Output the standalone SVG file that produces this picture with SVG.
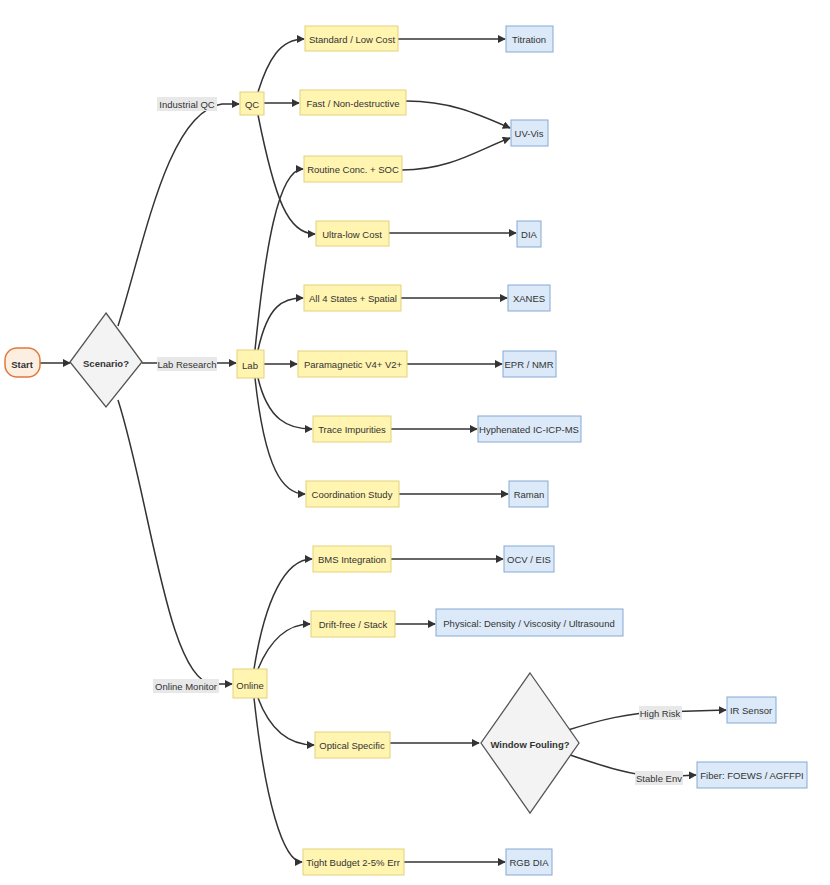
<svg xmlns="http://www.w3.org/2000/svg" width="830" height="885" viewBox="0 0 830 885">
<defs>
<marker id="arr" viewBox="0 0 10 10" refX="9" refY="5" markerWidth="8" markerHeight="8" orient="auto" markerUnits="userSpaceOnUse">
<path d="M0,0 L10,5 L0,10 z" fill="#333"/>
</marker>
<style>
text{font-family:"Liberation Sans",Arial,sans-serif;font-size:9.5px;fill:#333;text-anchor:middle;dominant-baseline:central}
.y{fill:#fff4b0;stroke:#e3d17c;stroke-width:1}
.b{fill:#dbe9f8;stroke:#86a9d3;stroke-width:1}
.d{fill:#f3f3f3;stroke:#555;stroke-width:1.3}
.s{fill:#fdeee2;stroke:#e07a3a;stroke-width:1.5}
.e{fill:none;stroke:#333;stroke-width:1.5;marker-end:url(#arr)}
.lb{fill:#e8e8e8}
.bold{font-weight:bold}
</style>
</defs>
<rect width="830" height="885" fill="#fff"/>
<g id="connectors">
<path class="e" d="M40,363 L70,363"/>
<path class="e" d="M118,326 C145,240 168,112 222,104 L239,104"/>
<path class="e" d="M142,363 L236,363"/>
<path class="e" d="M118,400 C150,500 168,680 212,684 L232,684"/>
<path class="e" d="M258,92 C268,60 280,39 304,39"/>
<path class="e" d="M264,103 L299,103"/>
<path class="e" d="M258,115 C275,200 288,234 315,234"/>
<path class="e" d="M398,39 L505,39"/>
<path class="e" d="M406,101 C450,101 478,114 510,128"/>
<path class="e" d="M402,170 C450,170 478,150 510,138"/>
<path class="e" d="M389,233 L516,233"/>
<path class="e" d="M255,350 C265,250 278,169 303,169"/>
<path class="e" d="M258,350 C268,305 283,298 303,298"/>
<path class="e" d="M264,364 L297,364"/>
<path class="e" d="M258,378 C268,420 288,429 312,429"/>
<path class="e" d="M255,378 C265,470 283,494 305,494"/>
<path class="e" d="M401,298 L507,298"/>
<path class="e" d="M407,364 L502,364"/>
<path class="e" d="M391,429 L477,429"/>
<path class="e" d="M399,494 L508,494"/>
<path class="e" d="M254,669 C265,600 285,559 312,559"/>
<path class="e" d="M258,669 C270,640 288,624 310,624"/>
<path class="e" d="M258,698 C270,730 288,745 314,745"/>
<path class="e" d="M254,698 C265,800 283,862 302,862"/>
<path class="e" d="M391,559 L503,559"/>
<path class="e" d="M395,624 L435,624"/>
<path class="e" d="M390,743 L479,743"/>
<path class="e" d="M404,862 L505,862"/>
<path class="e" d="M568,730 C600,720 628,713 660,712 L726,710"/>
<path class="e" d="M570,755 C600,765 628,775 660,777 L696,775"/>
<rect class="lb" x="157" y="97" width="60" height="14"/>
<text x="187" y="104">Industrial QC</text>
<rect class="lb" x="157" y="357" width="60" height="14"/>
<text x="187" y="364">Lab Research</text>
<rect class="lb" x="153" y="679" width="66" height="14"/>
<text x="186" y="686">Online Monitor</text>
<rect class="lb" x="639" y="706" width="43" height="14"/>
<text x="660" y="713">High Risk</text>
<rect class="lb" x="635" y="771" width="48" height="14"/>
<text x="659" y="778">Stable Env</text>
</g>
<g id="start"><rect class="s" x="5" y="348" width="35" height="29" rx="12"/><text x="22" y="364" class="bold">Start</text></g>
<g id="scenario"><polygon class="d" points="106,313 142,362 106,407 70,362"/><text x="106" y="363" class="bold">Scenario?</text></g>
<g id="qc"><rect class="y" x="240" y="92" width="24" height="23"/><text x="252" y="104">QC</text></g>
<g id="lab"><rect class="y" x="237" y="350" width="27" height="28"/><text x="250" y="365">Lab</text></g>
<g id="online"><rect class="y" x="233" y="669" width="34" height="29"/><text x="250" y="685">Online</text></g>
<g id="standard"><rect class="y" x="305" y="26" width="93" height="25"/><text x="352" y="39">Standard / Low Cost</text></g>
<g id="fast"><rect class="y" x="300" y="90" width="106" height="25"/><text x="353" y="103">Fast / Non-destructive</text></g>
<g id="routine"><rect class="y" x="304" y="156" width="98" height="26"/><text x="353" y="169">Routine Conc. + SOC</text></g>
<g id="ultralow"><rect class="y" x="316" y="221" width="73" height="25"/><text x="352" y="234">Ultra-low Cost</text></g>
<g id="all4"><rect class="y" x="304" y="285" width="97" height="26"/><text x="353" y="298">All 4 States + Spatial</text></g>
<g id="para"><rect class="y" x="298" y="351" width="109" height="26"/><text x="353" y="364">Paramagnetic V4+ V2+</text></g>
<g id="trace"><rect class="y" x="313" y="416" width="78" height="26"/><text x="352" y="429">Trace Impurities</text></g>
<g id="coord"><rect class="y" x="306" y="481" width="93" height="26"/><text x="352" y="494">Coordination Study</text></g>
<g id="bms"><rect class="y" x="313" y="546" width="78" height="26"/><text x="352" y="559">BMS Integration</text></g>
<g id="drift"><rect class="y" x="311" y="611" width="84" height="26"/><text x="353" y="624">Drift-free / Stack</text></g>
<g id="optical"><rect class="y" x="315" y="732" width="75" height="26"/><text x="352" y="745">Optical Specific</text></g>
<g id="tight"><rect class="y" x="303" y="849" width="101" height="26"/><text x="353" y="862">Tight Budget 2-5% Err</text></g>
<g id="window"><polygon class="d" points="530,673 579,743 530,813 481,743"/><text x="530" y="744" class="bold">Window Fouling?</text></g>
<g id="titration"><rect class="b" x="506" y="26" width="47" height="26"/><text x="529" y="39">Titration</text></g>
<g id="uvvis"><rect class="b" x="511" y="120" width="37" height="26"/><text x="529" y="133">UV-Vis</text></g>
<g id="dia"><rect class="b" x="517" y="221" width="24" height="26"/><text x="529" y="234">DIA</text></g>
<g id="xanes"><rect class="b" x="508" y="285" width="42" height="26"/><text x="529" y="298">XANES</text></g>
<g id="epr"><rect class="b" x="503" y="351" width="53" height="26"/><text x="529" y="364">EPR / NMR</text></g>
<g id="icp"><rect class="b" x="478" y="416" width="103" height="26"/><text x="529" y="429">Hyphenated IC-ICP-MS</text></g>
<g id="raman"><rect class="b" x="509" y="481" width="39" height="26"/><text x="529" y="494">Raman</text></g>
<g id="ocv"><rect class="b" x="504" y="546" width="50" height="26"/><text x="529" y="559">OCV / EIS</text></g>
<g id="physical"><rect class="b" x="436" y="609" width="187" height="27"/><text x="529" y="623">Physical: Density / Viscosity / Ultrasound</text></g>
<g id="rgb"><rect class="b" x="506" y="849" width="46" height="26"/><text x="529" y="862">RGB DIA</text></g>
<g id="ir"><rect class="b" x="727" y="697" width="49" height="26"/><text x="751" y="710">IR Sensor</text></g>
<g id="fiber"><rect class="b" x="697" y="762" width="110" height="26"/><text x="752" y="775">Fiber: FOEWS / AGFFPI</text></g>
</svg>
